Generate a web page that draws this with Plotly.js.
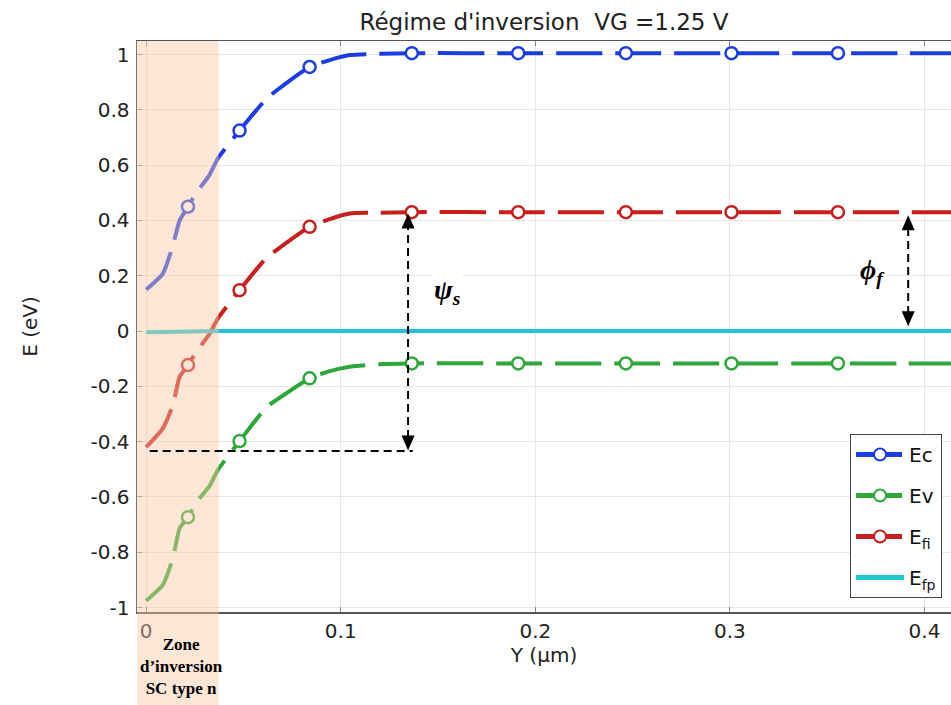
<!DOCTYPE html>
<html><head><meta charset="utf-8">
<script src="https://cdn.plot.ly/plotly-3.0.1.min.js"></script>
<style>html,body{margin:0;padding:0;background:#fff}</style>
</head><body>
<div id="chart" style="width:951px;height:705px"></div>
<script>
// position Y (µm)
const posY = [0, 0.0086, 0.0138, 0.0172, 0.0215, 0.0258, 0.0326, 0.0369, 0.048, 0.0618, 0.067, 0.084, 0.0943, 0.1046, 0.12, 0.1365, 0.1912, 0.2465, 0.3008, 0.3555, 0.39, 0.415];
const Ec  = [0.15, 0.208, 0.311, 0.40, 0.45, 0.50, 0.565, 0.625, 0.725, 0.84, 0.87, 0.955, 0.98, 0.998, 1.003, 1.005, 1.005, 1.005, 1.005, 1.005, 1.005, 1.005];
const Ev  = [-0.975, -0.918, -0.82, -0.713, -0.673, -0.62, -0.56, -0.502, -0.398, -0.275, -0.249, -0.171, -0.145, -0.129, -0.12, -0.117, -0.117, -0.117, -0.117, -0.117, -0.117, -0.117];
const Efi = [-0.42, -0.352, -0.267, -0.165, -0.123, -0.075, -0.01, 0.046, 0.148, 0.265, 0.293, 0.377, 0.405, 0.425, 0.428, 0.43, 0.43, 0.43, 0.43, 0.43, 0.43, 0.43];
const EfpX = [0, 0.0373, 0.415];
const Efp  = [-0.004, 0, 0];
const markerX = [0.0215, 0.048, 0.084, 0.1365, 0.1912, 0.2465, 0.3008, 0.3555];

const yTickVals = [-1, -0.8, -0.6, -0.4, -0.2, 0, 0.2, 0.4, 0.6, 0.8, 1];
const yTickText = ['-1', '-0.8', '-0.6', '-0.4', '-0.2', '0', '0.2', '0.4', '0.6', '0.8', '1'];
const xTickVals = [0, 0.1, 0.2, 0.3, 0.4];
const xTickText = ['0', '0.1', '0.2', '0.3', '0.4'];

const names = ['Ec', 'Ev', 'E<sub>fi</sub>', 'E<sub>fp</sub>'];
const colors = ['#1d3ce4', '#2ea83a', '#c81e1e', '#22c6d2'];

// annotation geometry (in data units)
const xRange = [-0.0047, 0.4136];
const yRange = [-1.016, 1.049];
const zoneEnd = 0.0373;
const psiX = 0.1346, psiTop = 0.425, psiBottom = -0.432, horizY = -0.434, horizX0 = 0.0018, horizX1 = 0.137;
const phiX = 0.3916, phiTop = 0.419, phiBottom = 0.017;

const sizes = posY.map(x => markerX.includes(x) ? 12 : 0);
const dashPat = '46px,13px';

function band(y, i) {
  return {
    x: posY, y: y, name: names[i], mode: 'lines+markers', legendgroup: 'g' + i,
    line: {color: colors[i], width: 4, dash: dashPat, shape: 'spline', smoothing: 0.5},
    marker: {symbol: 'circle', size: sizes, opacity: 1, color: '#ffffff', line: {color: colors[i], width: 2.5}},
    hoverinfo: 'skip'
  };
}

const traces = [
  band(Ec, 0), band(Ev, 1), band(Efi, 2),
  {x: EfpX, y: Efp, name: names[3], mode: 'lines', legendgroup: 'g3',
   line: {color: colors[3], width: 4}, hoverinfo: 'skip'}
];

const dashLine = {color: '#000', width: 2, dash: '8px,5px'};
function head(x, y, up) {
  return {type: 'path', xref: 'x', yref: 'y', xsizemode: 'pixel', ysizemode: 'pixel', xanchor: x, yanchor: y,
          path: up ? 'M0,0 L-6.5,-15 L6.5,-15 Z' : 'M0,0 L-6.5,15 L6.5,15 Z',
          fillcolor: '#000', line: {width: 0}};
}

const layout = {
  width: 951, height: 705,
  margin: {l: 137, r: 0, t: 41, b: 93},
  paper_bgcolor: '#fff', plot_bgcolor: '#fff',
  title: {text: "Régime d'inversion&nbsp;&nbsp;VG =1.25 V", font: {family: 'DejaVu Sans', size: 23, color: '#222'},
          x: 0.5, xref: 'paper', xanchor: 'center', y: 0.9695, yanchor: 'middle'},
  showlegend: true,
  legend: {x: 0.989, xanchor: 'right', y: 0.0245, yanchor: 'bottom', bgcolor: '#fff', bordercolor: '#444', borderwidth: 1,
           font: {family: 'DejaVu Sans', size: 20, color: '#111'}, traceorder: 'grouped', tracegroupgap: 12,
           itemsizing: 'constant', itemwidth: 48},
  xaxis: {range: xRange, tickmode: 'array', tickvals: xTickVals, ticktext: xTickText,
          showgrid: true, gridcolor: '#e6e6e6', gridwidth: 1, zeroline: false,
          showline: true, linecolor: '#555', linewidth: 1.5, mirror: 'ticks',
          ticks: 'inside', ticklen: 5, tickcolor: '#888',
          tickfont: {family: 'DejaVu Sans', size: 20, color: '#222'},
          title: {text: 'Y (µm)', font: {family: 'DejaVu Sans', size: 20, color: '#222'}, standoff: 4}},
  yaxis: {range: yRange, tickmode: 'array', tickvals: yTickVals, ticktext: yTickText,
          showgrid: true, gridcolor: '#e6e6e6', gridwidth: 1, zeroline: false,
          showline: true, linecolor: '#777', linewidth: 1.5, mirror: false,
          ticks: 'inside', ticklen: 5, tickcolor: '#888', ticklabelstandoff: 2,
          tickfont: {family: 'DejaVu Sans', size: 20, color: '#222'},
          title: {text: 'E (eV)', font: {family: 'DejaVu Sans', size: 20, color: '#222'}, standoff: 47}},
  shapes: [
    {type: 'rect', xref: 'x', yref: 'paper', x0: xRange[0], x1: zoneEnd, y0: -0.2, y1: 1,
     fillcolor: '#f9c9a6', opacity: 0.45, line: {width: 0}, layer: 'above'},
    {type: 'line', xref: 'x', yref: 'y', x0: psiX, x1: psiX, y0: psiBottom + 0.045, y1: psiTop - 0.045, line: dashLine},
    {type: 'line', xref: 'x', yref: 'y', x0: horizX0, x1: horizX1, y0: horizY, y1: horizY, line: dashLine},
    {type: 'line', xref: 'x', yref: 'y', x0: phiX, x1: phiX, y0: phiBottom + 0.045, y1: phiTop - 0.045, line: dashLine},
    head(psiX, psiTop, true), head(psiX, psiBottom, false),
    head(phiX, phiTop, true), head(phiX, phiBottom, false)
  ],
  annotations: [
    {text: '<b>Zone<br>d’inversion<br>SC type n</b>', xref: 'x', yref: 'paper', x: (xRange[0] + zoneEnd) / 2 + 0.002, y: -0.0946,
     xanchor: 'center', yanchor: 'middle', showarrow: false,
     font: {family: 'Liberation Serif, Times New Roman, serif', size: 17, color: '#000'}},
    {text: '<b><i>ψ<sub>s</sub></i></b>', xref: 'x', yref: 'y', x: 0.155, y: 0.1435, showarrow: false, bgcolor: '#fff',
     font: {family: 'Liberation Serif, DejaVu Serif, serif', size: 28, color: '#000'}},
    {text: '<b><i>ϕ<sub>f</sub></i></b>', xref: 'x', yref: 'y', x: 0.3735, y: 0.216, showarrow: false, bgcolor: '#fff',
     font: {family: 'Liberation Serif, DejaVu Serif, serif', size: 28, color: '#000'}}
  ]
};

Plotly.newPlot('chart', traces, layout, {displayModeBar: false, staticPlot: true});
</script>
</body></html>
